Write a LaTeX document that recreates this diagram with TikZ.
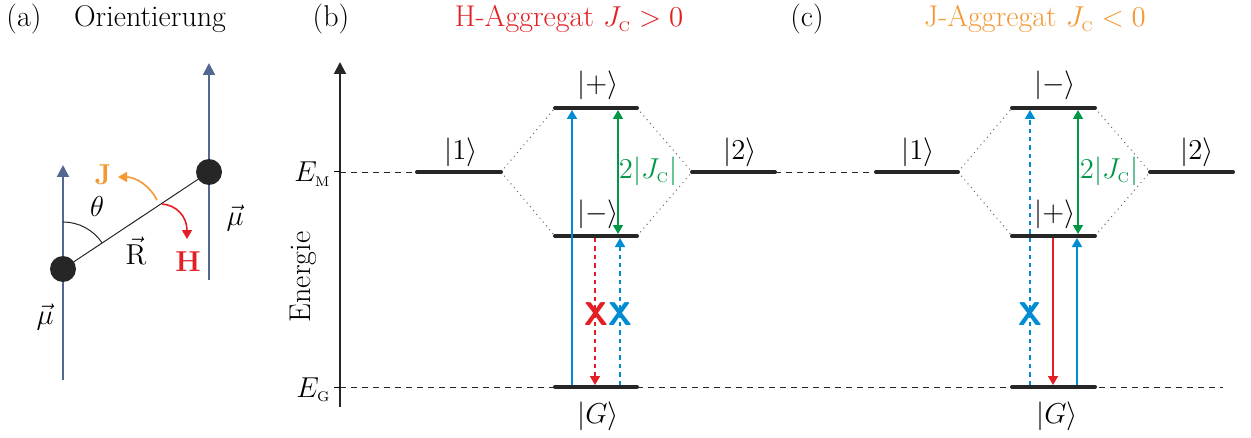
\documentclass[tikz,border=0pt]{standalone}
\usepackage{amsmath}
\usetikzlibrary{arrows.meta}
\definecolor{cred}{RGB}{227,30,36}
\definecolor{cblue}{RGB}{0,140,210}
\definecolor{cgreen}{RGB}{0,152,72}
\definecolor{corange}{RGB}{243,152,50}
\definecolor{cslate}{RGB}{82,104,145}
\definecolor{cdark}{RGB}{38,38,38}
\newcommand{\subC}{{\scriptscriptstyle\mathrm{C}}}
\begin{document}
\begin{tikzpicture}[x=0.5pt,y=-0.5pt,
  every node/.style={font=\fontsize{15}{18}\selectfont, inner sep=0pt},
  lvl/.style={line width=2pt, cdark, line cap=round},
  guide/.style={line width=0.4pt, dash pattern=on 3pt off 2.5pt, black!85},
  corr/.style={line width=0.5pt, dotted, black!60},
  tr/.style={line width=0.85pt, -{Triangle[length=4.5pt,width=5pt]}},
  trd/.style={tr, dash pattern=on 2.2pt off 2pt},
  dbl/.style={line width=0.85pt, {Triangle[length=4.5pt,width=5pt]}-{Triangle[length=4.5pt,width=5pt]}},
  xmark/.style={font=\fontsize{16.5}{18}\sffamily\bfseries\selectfont},
  dipole/.style={line width=1pt, cslate, -{Triangle[length=6pt,width=6pt]}},
  dot/.style={circle, fill=cdark, minimum size=13pt, inner sep=0pt},
]
\useasboundingbox (0,0) rectangle (1251,438);

% ---------------- panel (a)
\node[anchor=base] (la) at (24,27) {(a)};
\node[anchor=base] (ta) at (150,27) {Orientierung};
\coordinate (m1b) at (63,380);
\coordinate (m1t) at (63,165);
\coordinate (m2b) at (209,280);
\coordinate (m2t) at (209,63);
\draw[dipole] (m1b) -- (m1t);
\draw[dipole] (m2b) -- (m2t);
\coordinate (d1) at (63,269);
\coordinate (d2) at (209,172);
\draw[line width=0.5pt, cdark] (d1) -- (d2);
\draw[line width=0.5pt, cdark] (63,222) arc[start angle=-90, end angle=-33.6, radius=47];
\node[dot] (n1) at (d1) {};
\node[dot] (n2) at (d2) {};
\coordinate (js) at (157,200);
\coordinate (je) at (118,177);
\draw[line width=0.8pt, corange, -{Triangle[length=4.5pt,width=5pt]}] (js) .. controls (150,186) and (136,177) .. (je);
\coordinate (hs) at (162,204);
\coordinate (he) at (187,239);
\draw[line width=0.8pt, cred, -{Triangle[length=4.5pt,width=5pt]}] (hs) .. controls (176,205) and (187,216) .. (he);
\node (lJ) at (103,175) {\color{corange}$\mathbf{J}$};
\node (lH) at (188,262) {\color{cred}$\mathbf{H}$};
\node (lth) at (97,207) {$\theta$};
\node (lR) at (136,251) {$\vec{\mathrm{R}}$};
\node (lm1) at (45,317) {$\vec{\mu}$};
\node (lm2) at (235,218) {$\vec{\mu}$};

% ---------------- titles
\node[anchor=base] (lb) at (331,27) {(b)};
\node[anchor=base, text=cred] (tb) at (569,27) {H-Aggregat $J_\subC > 0$};
\node[anchor=base] (lc) at (807,27) {(c)};
\node[anchor=base, text=corange] (tc) at (1035,27) {J-Aggregat $J_\subC < 0$};

% ---------------- axis
\coordinate (ax0) at (340,407);
\coordinate (ax1) at (340,62);
\draw[line width=1pt, cdark, -{Triangle[length=6pt,width=6pt]}] (ax0) -- (ax1);
\node[rotate=90] (en) at (303,277) {Energie};
\draw[line width=0.5pt] (334,172) -- (340,172);
\draw[line width=0.5pt] (334,387) -- (340,387);
\node[anchor=base east] (EM) at (331,182) {$E_{\scriptscriptstyle\mathrm{M}}$};
\node[anchor=base east] (EG) at (331,397) {$E_{\scriptscriptstyle\mathrm{G}}$};

% guides
\coordinate (gM0) at (340,172);
\coordinate (gG0) at (340,387);
\coordinate (gG1) at (1223,387);
\draw[guide] (gG0) -- (gG1);

% ---------------- panel (b) levels
\coordinate (b1L) at (417,172); \coordinate (b1R) at (501,172);
\coordinate (bpL) at (555,108); \coordinate (bpR) at (637,108);
\coordinate (bmL) at (555,236); \coordinate (bmR) at (637,236);
\coordinate (b2L) at (692,172); \coordinate (b2R) at (775,172);
\coordinate (bGL) at (555,387); \coordinate (bGR) at (637,387);
\draw[guide] (gM0) -- (b1L);
\draw[corr] (b1R) -- (bpL) (b1R) -- (bmL) (bpR) -- (b2L) (bmR) -- (b2L);

% ---------------- panel (c) levels
\coordinate (c1L) at (876,172); \coordinate (c1R) at (958,172);
\coordinate (cuL) at (1012,108); \coordinate (cuR) at (1095,108);
\coordinate (clL) at (1012,236); \coordinate (clR) at (1095,236);
\coordinate (c2L) at (1150,172); \coordinate (c2R) at (1233,172);
\coordinate (cGL) at (1012,387); \coordinate (cGR) at (1095,387);
\draw[guide] (b2R) -- (c1L);
\draw[corr] (c1R) -- (cuL) (c1R) -- (clL) (cuR) -- (c2L) (clR) -- (c2L);

\foreach \a/\b in {b1L/b1R,bpL/bpR,bmL/bmR,b2L/b2R,bGL/bGR,c1L/c1R,cuL/cuR,clL/clR,c2L/c2R,cGL/cGR}
  \draw[lvl] (\a) -- (\b);

% labels (b)
\node (k1b) at (461,152) {$|1\rangle$};
\node (kpb) at (598,85) {$|{+}\rangle$};
\node (kmb) at (598,214) {$|{-}\rangle$};
\node (k2b) at (740,152) {$|2\rangle$};
\node (kGb) at (598,416) {$|G\rangle$};
% labels (c)
\node (k1c) at (918,152) {$|1\rangle$};
\node (kmc) at (1055,85) {$|{-}\rangle$};
\node (kpc) at (1055,214) {$|{+}\rangle$};
\node (k2c) at (1197,152) {$|2\rangle$};
\node (kGc) at (1057,416) {$|G\rangle$};

% transitions (b)
\coordinate (t1a) at (572,385); \coordinate (t1b) at (572,110);
\draw[tr, cblue] (t1a) -- (t1b);
\coordinate (t2a) at (618,110); \coordinate (t2b) at (618,234);
\draw[dbl, cgreen] (t2a) -- (t2b);
\node[text=cgreen] (jb) at (648,171) {$2|J_\subC|$};
\coordinate (t3a) at (595,238); \coordinate (t3b) at (595,385);
\draw[trd, cred] (t3a) -- (t3b);
\coordinate (t4a) at (620,385); \coordinate (t4b) at (620,238);
\draw[trd, cblue] (t4a) -- (t4b);
\node[xmark, text=cred] (xr) at (596,314) {X};
\node[xmark, text=cblue] (xb) at (620,314) {X};

% transitions (c)
\coordinate (u1a) at (1030,385); \coordinate (u1b) at (1030,110);
\draw[trd, cblue] (u1a) -- (u1b);
\coordinate (u2a) at (1078,110); \coordinate (u2b) at (1078,234);
\draw[dbl, cgreen] (u2a) -- (u2b);
\node[text=cgreen] (jc) at (1109,171) {$2|J_\subC|$};
\coordinate (u3a) at (1053,238); \coordinate (u3b) at (1053,385);
\draw[tr, cred] (u3a) -- (u3b);
\coordinate (u4a) at (1077,385); \coordinate (u4b) at (1077,238);
\draw[tr, cblue] (u4a) -- (u4b);
\node[xmark, text=cblue] (xc) at (1030,314) {X};
\end{tikzpicture}
\end{document}
